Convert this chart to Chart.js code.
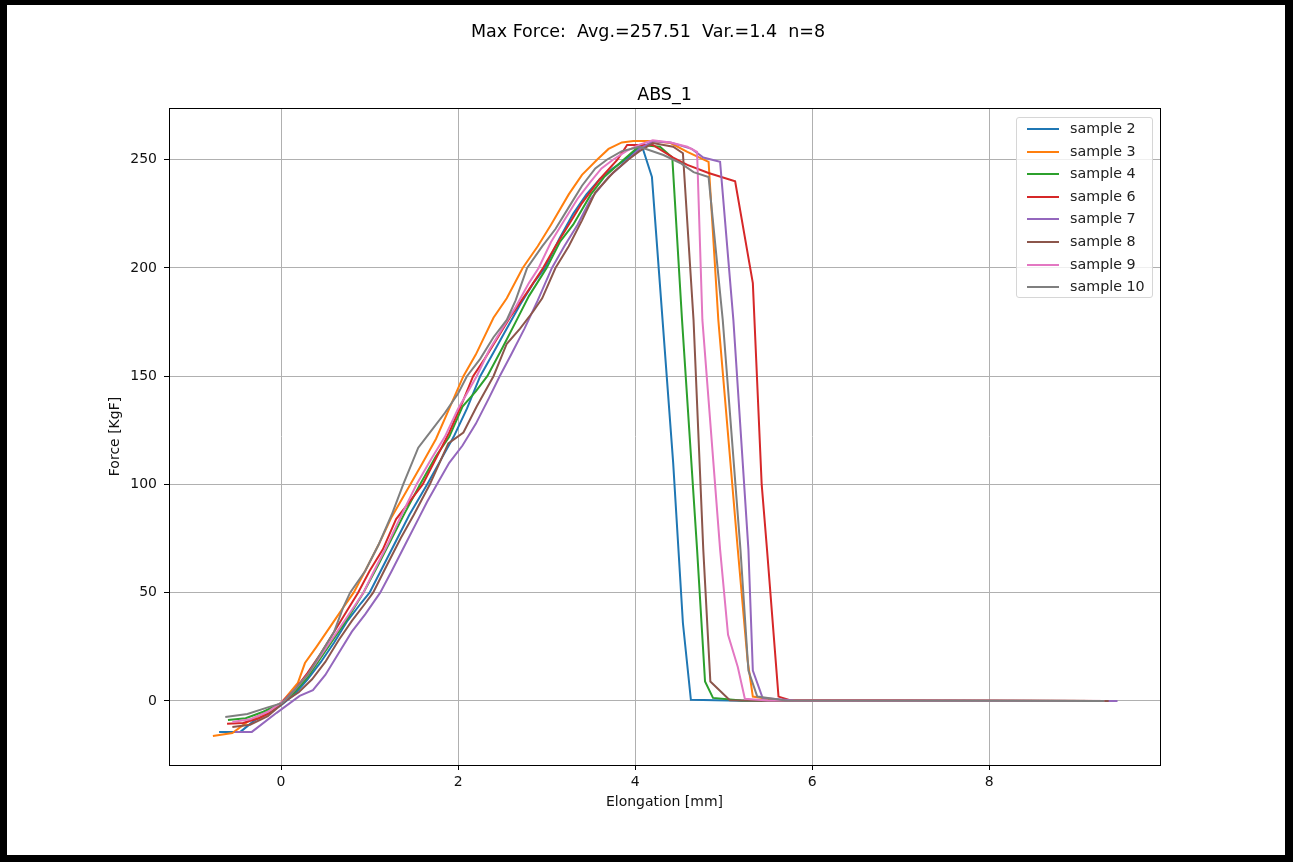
<!DOCTYPE html>
<html>
<head>
<meta charset="utf-8">
<script src="https://cdn.jsdelivr.net/npm/chart.js@4.4.1/dist/chart.umd.min.js"></script>
<style>
html, body { margin: 0; padding: 0; background: #fff; }
#wrap { position: relative; width: 1293px; height: 862px; overflow: hidden; }
#chart { position: absolute; left: 0; top: 0; }
#frame { position: absolute; left: 0; top: 0; width: 1293px; height: 862px; box-sizing: border-box;
  border-style: solid; border-color: #000; border-width: 5px 8px 7px 7px; pointer-events: none; }
#suptitle { position: absolute; left: 348px; width: 600px; top: 21px; text-align: center;
  font: 17.5px "DejaVu Sans", sans-serif; color: #000; white-space: pre; line-height: 21px; }
#legend { position: absolute; left: 1016px; top: 117px; width: 137px; height: 181px; box-sizing: border-box;
  border: 1px solid #d6d6d6; border-radius: 3px; background: rgba(255,255,255,0.8);
  font: 14.3px "DejaVu Sans", sans-serif; color: #222; }
#legend .row { position: relative; height: 22.6px; }
#legend .sw { position: absolute; left: 10px; top: 10px; width: 32px; height: 2px; }
#legend .tx { position: absolute; left: 53px; top: 2px; white-space: nowrap; }
</style>
</head>
<body>
<div id="wrap">
  <canvas id="chart" width="1293" height="862"></canvas>
  <div id="suptitle">Max Force:  Avg.=257.51  Var.=1.4  n=8</div>
  <div id="legend"></div>
  <div id="frame"></div>
</div>
<script>
// tick labels
var xTicks = [0, 2, 4, 6, 8];
var yTicks = [0, 50, 100, 150, 200, 250];

var labels = ['sample 2', 'sample 3', 'sample 4', 'sample 6', 'sample 7', 'sample 8', 'sample 9', 'sample 10'];
var colors = ['#1f77b4', '#ff7f0e', '#2ca02c', '#d62728', '#9467bd', '#8c564b', '#e377c2', '#7f7f7f'];

// elongation [mm] / force [KgF]
var elong2 = [-0.70,-0.46,-0.30,-0.15,0.0,0.15,0.3,0.45,0.6,0.75,0.9,1.0,1.15,1.3,1.45,1.65,1.8,1.95,2.1,2.25,2.4,2.55,2.7,2.85,2.98,3.15,3.3,3.45,3.6,3.75,3.89,4.0,4.08,4.19,4.43,4.54,4.63,5.2,9.3];
var force2 = [-14.3,-14.3,-9,-6,-2,3,10,18,27,37,45,50,62,74,86,100,111,122,135,150,161,172,183,193,200,214,225,234,241,246,250,254,256,242,110,36,0.5,0.1,0];

var elong3 = [-0.77,-0.55,-0.35,-0.15,0.0,0.19,0.27,0.4,0.55,0.7,0.82,0.95,1.1,1.25,1.46,1.6,1.75,1.9,2.06,2.2,2.4,2.55,2.73,2.9,3.05,3.25,3.4,3.57,3.7,3.85,3.98,4.2,4.4,4.59,4.83,4.94,5.16,5.27,5.33,5.6,9.3];
var force3 = [-16.2,-14.8,-8.8,-5,-1,8.3,17.5,25,34,43,50,60,72,85,100,110,121,135,150,160,177,186,200,210,220,234,243,250,255,258,258.6,258.6,257.7,253.6,249,176,70,19,2,0.3,0];

var elong4 = [-0.60,-0.40,-0.2,0.0,0.15,0.3,0.45,0.6,0.75,0.93,1.1,1.25,1.4,1.57,1.75,1.9,2.05,2.2,2.33,2.5,2.65,2.8,3.0,3.15,3.3,3.5,3.65,3.87,4.06,4.28,4.42,4.53,4.70,4.79,4.88,5.2,9.3];
var force4 = [-8.8,-8,-5,-1,4,11,20,29,38,50,63,75,87,100,113,122,136,143,150,163,175,187,200,212,220,234,242,250,256.8,256,251,176,70,9,1.4,0.2,0];

var elong6 = [-0.61,-0.43,-0.25,-0.1,0.02,0.15,0.3,0.45,0.6,0.75,0.87,1.0,1.15,1.3,1.45,1.6,1.75,1.9,2.05,2.17,2.3,2.45,2.6,2.8,2.96,3.1,3.25,3.4,3.6,3.8,3.91,4.2,4.43,4.59,4.83,5.13,5.33,5.43,5.49,5.62,5.75,9.4];
var force6 = [-10.6,-10.2,-8,-5,0,5,13,22,32,42,50,60,70,84,92,100,112,124,138,150,158,168,178,190,200,210,220,230,241,250,256.8,256.8,251,247.6,243.9,240,193,100,70,2,0.3,0];

var elong7 = [-0.52,-0.33,-0.05,0.21,0.36,0.5,0.65,0.8,0.95,1.12,1.25,1.4,1.55,1.65,1.76,1.9,2.05,2.2,2.35,2.47,2.6,2.75,2.9,3.06,3.2,3.35,3.5,3.7,3.92,4.05,4.2,4.4,4.64,4.77,4.96,5.11,5.28,5.33,5.44,5.8,9.45];
var force7 = [-14.3,-14.3,-5.5,2.3,5,12,22,32,40,50,60,72,84,92,100,110,118,128,140,150,160,172,185,200,210,220,232,242,250,255,258.5,258,255,251,249,176,70,14,1.4,0.2,0];

var elong8 = [-0.55,-0.35,-0.15,0.05,0.2,0.35,0.5,0.65,0.8,0.95,1.04,1.2,1.35,1.5,1.68,1.89,2.06,2.21,2.40,2.55,2.7,2.85,2.95,3.10,3.25,3.4,3.55,3.75,3.92,4.05,4.2,4.43,4.54,4.66,4.77,4.85,5.07,5.4,9.35];
var force8 = [-12,-11,-7,0,4,10,18,28,37,45,50,63,75,86,100,119,124,136,150,165,172,180,186,200,210,222,235,244,250,254,257.7,256,253,176,70,9,0.3,0.1,0];

var elong9 = [-0.55,-0.35,-0.15,0.03,0.15,0.3,0.45,0.6,0.75,0.93,1.05,1.2,1.35,1.53,1.7,1.85,2.0,2.1,2.21,2.35,2.5,2.65,2.8,2.91,3.05,3.2,3.35,3.5,3.62,3.75,3.9,4.05,4.2,4.4,4.59,4.70,4.76,4.96,5.05,5.16,5.24,5.5,9.3];
var force9 = [-9.7,-8.5,-5,0,5,12,21,30,39,50,60,72,85,100,112,122,135,142,150,162,172,182,193,200,212,222,232,240,246,250,254,257,259,258,256,253.6,176,70,30.5,15.7,1,0.2,0];

var elong10 = [-0.63,-0.38,-0.15,0.01,0.15,0.3,0.45,0.6,0.7,0.78,0.95,1.1,1.25,1.38,1.55,1.7,1.85,2.0,2.10,2.25,2.4,2.55,2.65,2.78,2.95,3.1,3.25,3.4,3.55,3.68,3.85,4.05,4.32,4.51,4.66,4.83,4.99,5.19,5.28,5.38,5.7,9.3];
var force10 = [-7.4,-6,-3,-1,5,12,22,32,43,50,60,72,86,100,117,125,133,142,150,158,168,176,185,200,210,218,228,238,246,250,254,256,252.2,248.5,244.3,242,176,70,14,2,0.2,0];

var elongs = [elong2, elong3, elong4, elong6, elong7, elong8, elong9, elong10];
var forces = [force2, force3, force4, force6, force7, force8, force9, force10];

function pairUp(xs, ys) {
  return xs.map(function(v, i) { return {x: v, y: ys[i]}; });
}

var datasets = labels.map(function(lab, i) {
  return {
    label: lab,
    data: pairUp(elongs[i], forces[i]),
    borderColor: colors[i],
    backgroundColor: colors[i],
    borderWidth: 2,
    pointRadius: 0,
    showLine: true,
    tension: 0,
    // later samples on top, like the original
    order: labels.length - i
  };
});

//draw the black box round the axes
var boxPlugin = {
  id: 'box',
  afterDatasetsDraw: function(c) {
    var a = c.chartArea, ctx = c.ctx;
    ctx.save();
    ctx.strokeStyle = '#000';
    ctx.lineWidth = 1;
    ctx.strokeRect(Math.round(a.left) + 0.5, Math.round(a.top) + 0.5,
      Math.round(a.right - a.left), Math.round(a.bottom - a.top));
    ctx.restore();
  }
};

var tickFont = {family: '"DejaVu Sans", sans-serif', size: 14};

var ctx = document.getElementById('chart').getContext('2d');
var chart = new Chart(ctx, {
  type: 'scatter',
  data: {datasets: datasets},
  options: {
    responsive: false,
    animation: false,
    devicePixelRatio: 1,
    layout: {padding: {left: 104, right: 133, top: 85, bottom: 47}},
    plugins: {
      legend: {display: false},
      tooltip: {enabled: false},
      title: {
        display: true,
        text: 'ABS_1',
        color: '#000',
        fullSize: false,
        font: {family: '"DejaVu Sans", sans-serif', size: 17.5, weight: 'normal'},
        padding: {top: 0, bottom: 2}
      }
    },
    scales: {
      x: {
        type: 'linear',
        min: -1.266,
        max: 9.93,
        afterBuildTicks: function(s) { s.ticks = xTicks.map(function(v) { return {value: v}; }); },
        afterFit: function(s) { s.height = 50; },
        grid: {color: '#b0b0b0', lineWidth: 1, tickLength: 5, tickColor: '#000'},
        border: {color: '#000'},
        ticks: {color: '#111', font: tickFont, padding: 4, maxRotation: 0},
        title: {display: true, text: 'Elongation [mm]', color: '#111', font: tickFont, padding: {top: 0, bottom: 4}}
      },
      y: {
        type: 'linear',
        min: -29.6,
        max: 273.9,
        afterBuildTicks: function(s) { s.ticks = yTicks.map(function(v) { return {value: v}; }); },
        afterFit: function(s) { s.width = 65; },
        grid: {color: '#b0b0b0', lineWidth: 1, tickLength: 5, tickColor: '#000'},
        border: {color: '#000'},
        ticks: {color: '#111', font: tickFont, padding: 7},
        title: {display: true, text: 'Force [KgF]', color: '#111', font: tickFont, padding: {top: 3, bottom: 0}}
      }
    }
  },
  plugins: [boxPlugin]
});

// legend in the upper right corner of the axes
var leg = document.getElementById('legend');
labels.forEach(function(lab, i) {
  var row = document.createElement('div');
  row.className = 'row';
  var sw = document.createElement('div');
  sw.className = 'sw';
  sw.style.background = colors[i];
  var tx = document.createElement('div');
  tx.className = 'tx';
  tx.textContent = lab;
  row.appendChild(sw);
  row.appendChild(tx);
  leg.appendChild(row);
});
</script>
</body>
</html>
